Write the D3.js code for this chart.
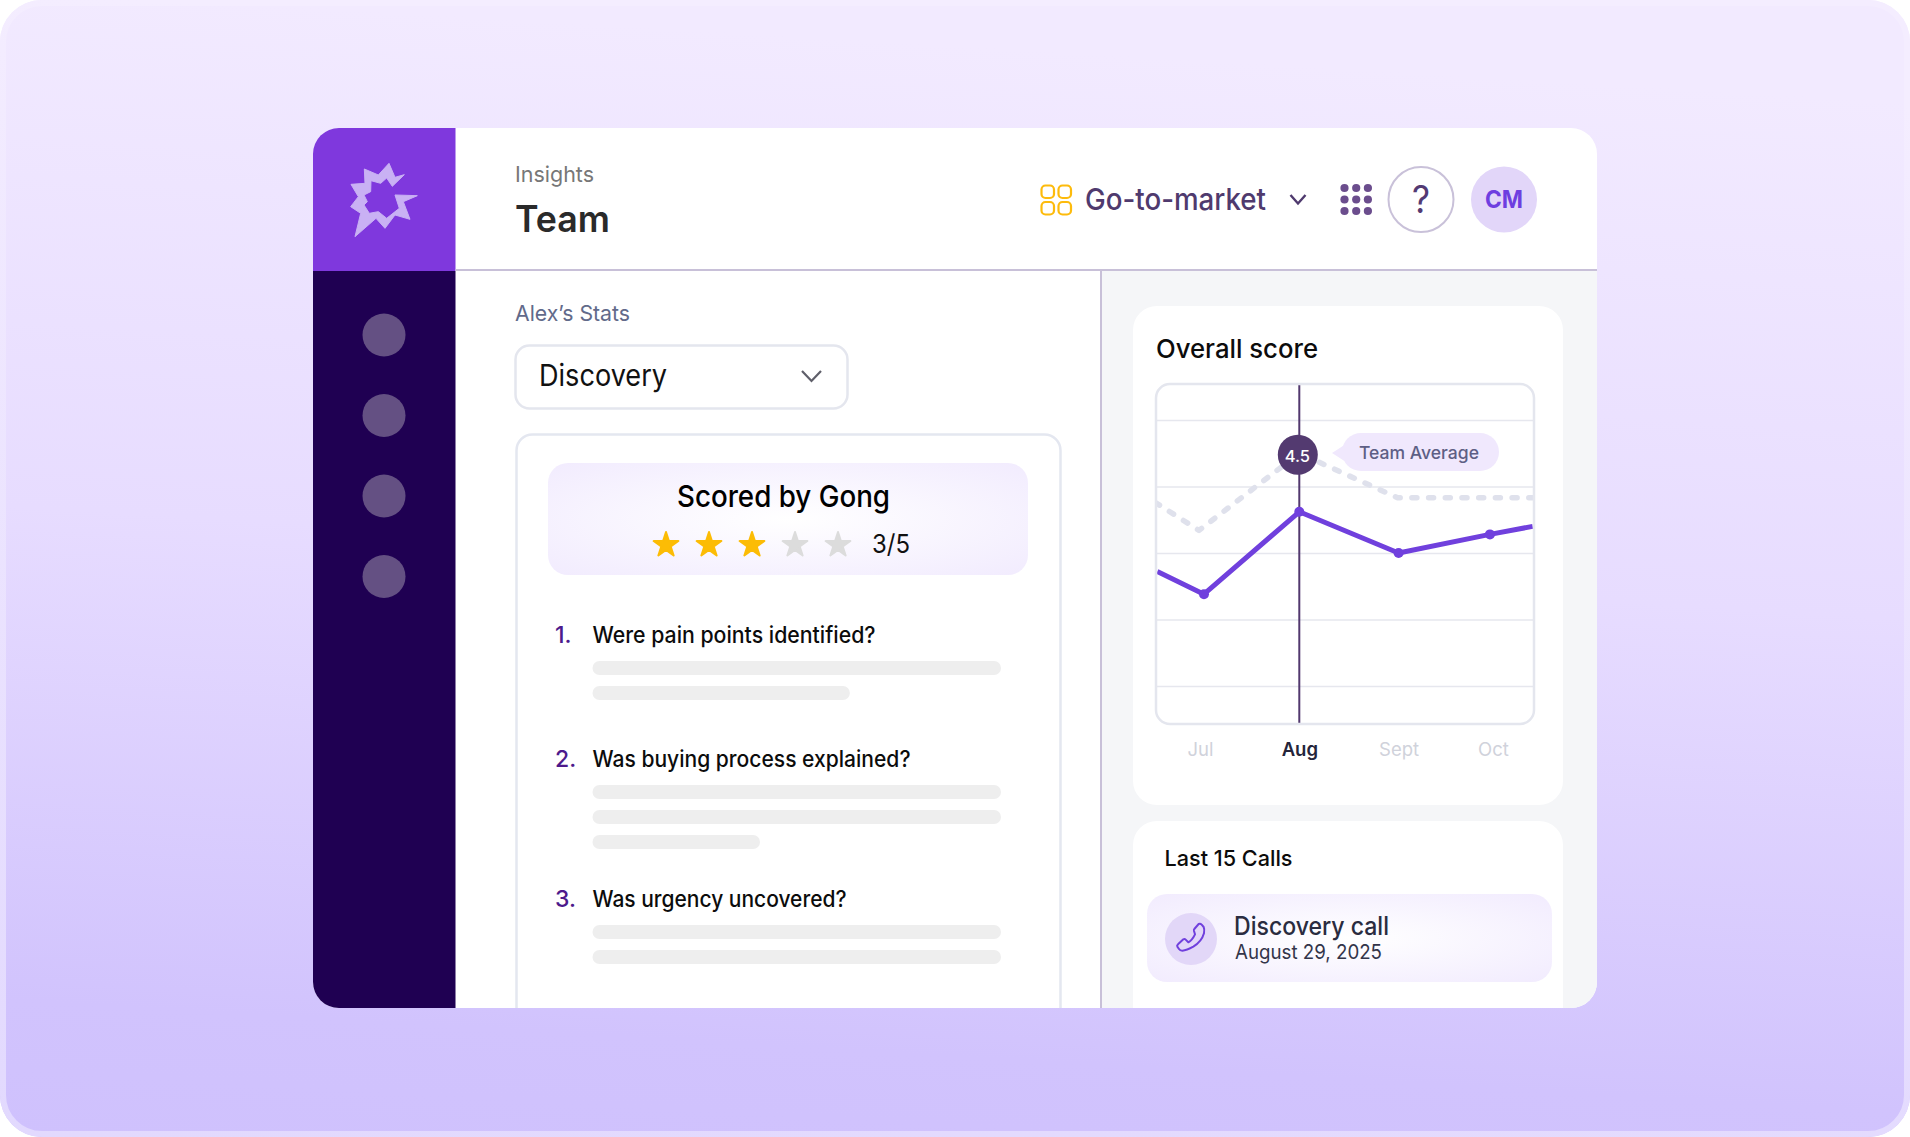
<!DOCTYPE html>
<html>
<head>
<meta charset="utf-8">
<style>
  html, body { margin: 0; padding: 0; background: #fff; }
  svg { display: block; }
  text { font-family: Inter, "Noto Sans", sans-serif; }
</style>
<script src="https://cdn.jsdelivr.net/npm/d3@7"></script>
</head>
<body>
<svg id="page" width="1910" height="1137"></svg>
<script>
// chart data
const months = ["Jul", "Aug", "Sept", "Oct"];
const monthTicks = [0, 1, 2, 2.95];
const gridValues = [1, 2, 3, 4, 5];
const scoreX = [-0.43, 0.04, 1, 2, 2.92, 3.35];
const scoreY = [2.72, 2.38, 3.62, 3.0, 3.28, 3.4];
const dotX = [0.04, 1, 2, 2.92];
const dotY = [2.38, 3.62, 3.0, 3.28];
const teamX = [-0.45, -0.01, 1, 1.99, 3.36];
const teamY = [3.76, 3.34, 4.5, 3.83, 3.83];
const selectedMonth = 1;
const selectedValue = 4.5;

// the rest of the screen
const navDots = [0, 1, 2, 3];
const starSlots = [1, 2, 3, 4, 5];
const rating = 3;
const questions = ["Were pain points identified?", "Was buying process explained?", "Was urgency uncovered?"];
const questionWidths = [283, 318, 254];
const questionLines = [[1, 0.63], [1, 1, 0.41], [1, 1]];

const svg = d3.select("#page");
const defs = svg.append("defs");

function vGradient(id, stops) {
  const g = defs.append("linearGradient").attr("id", id).attr("x1", 0.1).attr("y1", 0).attr("x2", 0).attr("y2", 1);
  stops.forEach(s => g.append("stop").attr("offset", s[0]).attr("stop-color", s[1]));
}
function glowGradient(id) {
  const g = defs.append("radialGradient").attr("id", id).attr("r", 0.68);
  g.append("stop").attr("offset", 0).attr("stop-color", "#ffffff");
  g.append("stop").attr("offset", 1).attr("stop-color", "#f2ecfe");
}
vGradient("bg", [[0, "#f2eaff"], [0.45, "#e7dcff"], [0.88, "#d1c3fd"], [1, "#cfc1fd"]]);
vGradient("rim", [[0, "#f4edff"], [1, "#e2d9fe"]]);
glowGradient("glowA");
glowGradient("glowB");

function box(x, y, w, h, r, fill, stroke, sw) {
  return svg.append("rect").attr("x", x).attr("y", y).attr("width", w).attr("height", h).attr("rx", r)
    .attr("fill", fill).attr("stroke", stroke || "none").attr("stroke-width", sw || 0);
}

// width = width measured in the picture, the installed fonts run a little wide
function label(x, y, str, size, weight, color, width, anchor) {
  const t = svg.append("text").attr("x", x).attr("y", y).text(str)
    .attr("font-size", size).attr("font-weight", weight).attr("fill", color)
    .attr("text-anchor", anchor || "start");
  if (width) t.attr("textLength", width).attr("lengthAdjust", "spacingAndGlyphs");
  return t;
}

// background
box(0, 0, 1910, 1137, 42, "url(#bg)");
box(3, 3, 1904, 1131, 39, "none", "url(#rim)", 6);

// app shell
const shell = { x: 313, y: 128, w: 1284, h: 880, r: 26 };
defs.append("clipPath").attr("id", "shellClip").append("rect")
  .attr("x", shell.x).attr("y", shell.y).attr("width", shell.w).attr("height", shell.h).attr("rx", shell.r);
box(shell.x, shell.y, shell.w, shell.h, shell.r, "#ffffff");
const clipped = svg.append("g").attr("clip-path", "url(#shellClip)");
clipped.append("rect").attr("x", 313).attr("y", 128).attr("width", 142.5).attr("height", 143).attr("fill", "#7f38dd");
clipped.append("rect").attr("x", 313).attr("y", 271).attr("width", 142.5).attr("height", 737).attr("fill", "#1f0052");
clipped.append("rect").attr("x", 1102).attr("y", 271).attr("width", 495).attr("height", 737).attr("fill", "#f5f6f8");
clipped.append("rect").attr("x", 455.5).attr("y", 269).attr("width", 1141.5).attr("height", 2).attr("fill", "#c8c0d8");
clipped.append("rect").attr("x", 1100).attr("y", 271).attr("width", 2).attr("height", 737).attr("fill", "#c8c0d8");

// logo
const logoPts = [[147,40],[165,82],[193,74],[157,109],[140,84],[122,100],[93,92],[92,125],[72,135],[82,155],[72,165],[88,190],[115,185],[140,205],[178,175],[165,135],[232,137],[190,155],[210,208],[165,195],[135,235],[108,205],[45,260],[62,190],[32,170],[55,140],[33,103],[75,100],[73,57],[115,75]];
svg.append("path").attr("d", d3.line()(logoPts) + "Z")
  .attr("transform", "translate(340,150) scale(0.3333)")
  .attr("fill", "#c9b1f4").attr("stroke", "#c9b1f4").attr("stroke-width", 3).attr("stroke-linejoin", "round");

// sidebar dots
svg.selectAll(".nav").data(navDots).join("circle")
  .attr("cx", 384).attr("cy", d => 335 + d * 80.5).attr("r", 21.5).attr("fill", "#645083");

// header
label(515, 182, "Insights", 22, 400, "#777777", 79);
label(515, 232, "Team", 37, 600, "#2a2a2a", 95);

[0, 1].forEach(i => [0, 1].forEach(j => {
  box(1041.5 + i * 17, 185.5 + j * 16.5, 12.5, 12.5, 4, "none", "#fdbb0c", 2.2);
}));
label(1085, 210, "Go-to-market", 30, 500, "#4f3a6e", 181);
svg.append("path").attr("d", "M1290.5,195 L1298,203.5 L1305.5,195").attr("fill", "none")
  .attr("stroke", "#4f3a6e").attr("stroke-width", 2.4);
[0, 1, 2].forEach(i => [0, 1, 2].forEach(j => {
  svg.append("circle").attr("cx", 1344.5 + i * 11.7).attr("cy", 188 + j * 11.5).attr("r", 4.1).attr("fill", "#6b4d8d");
}));
svg.append("circle").attr("cx", 1421).attr("cy", 199.5).attr("r", 32.5).attr("fill", "#fff").attr("stroke", "#c9c1d9").attr("stroke-width", 2);
label(1421, 213, "?", 38, 400, "#533a73", 18, "middle");
svg.append("circle").attr("cx", 1504).attr("cy", 199.5).attr("r", 33).attr("fill", "#e2d6f9");
label(1504, 208, "CM", 24, 700, "#6e3ee0", 38, "middle");

// left column
label(515, 321, "Alex\u2019s Stats", 22, 400, "#626a8a", 115);
box(515.5, 345.5, 332, 63, 14, "#fff", "#e4e6ee", 2.5);
label(539, 386, "Discovery", 30, 400, "#111111", 128);
svg.append("path").attr("d", "M802,371 L811.5,381 L821,371").attr("fill", "none")
  .attr("stroke", "#5f5f6a").attr("stroke-width", 2.2);

clipped.append("rect").attr("x", 516.5).attr("y", 434.5).attr("width", 544).attr("height", 640).attr("rx", 16)
  .attr("fill", "#fff").attr("stroke", "#e4e7f0").attr("stroke-width", 2.5);

box(548, 463, 480, 112, 20, "url(#glowA)");
label(783.5, 507, "Scored by Gong", 30, 500, "#000000", 213, "middle");

const star = d3.symbol().type(d3.symbolStar).size(190);
svg.selectAll(".star").data(starSlots).join("path")
  .attr("d", star)
  .attr("transform", d => `translate(${666 + (d - 1) * 43},545)`)
  .attr("fill", d => d <= rating ? "#fcbc05" : "#dcdcdc")
  .attr("stroke", d => d <= rating ? "#fcbc05" : "#dcdcdc")
  .attr("stroke-width", 2).attr("stroke-linejoin", "round");
label(872, 553, rating + "/" + starSlots.length, 26, 400, "#111111", 38);

const questionY = [642.5, 766.5, 906.5];
const lineGap = 25;
questions.forEach((q, i) => {
  label(555, questionY[i], (i + 1) + ".", 23, 500, "#4d1a8c");
  label(592.5, questionY[i], q, 22.5, 500, "#0c0c0c", questionWidths[i]);
  questionLines[i].forEach((frac, k) => {
    box(592.5, questionY[i] + 18.5 + k * lineGap, 408.5 * frac, 14, 7, "#eeeeee");
  });
});

// score card
box(1133, 306, 430, 499, 24, "#fff");
label(1156, 358, "Overall score", 26, 500, "#0c0c0c", 162);

const frame = { left: 1156, right: 1534, top: 384, bottom: 724 };
defs.append("clipPath").attr("id", "frameClip").append("rect")
  .attr("x", frame.left).attr("y", frame.top).attr("width", frame.right - frame.left)
  .attr("height", frame.bottom - frame.top).attr("rx", 14);

const x = d3.scaleLinear().domain([0, 1]).range([1200, 1299.3]);
const y = d3.scaleLinear().domain([1, 5]).range([686, 420]);
const plot = svg.append("g").attr("clip-path", "url(#frameClip)");

// gridlines
const grid = plot.append("g").attr("transform", `translate(${frame.left},0)`)
  .call(d3.axisLeft(y).tickValues(gridValues).tickSize(-(frame.right - frame.left)).tickFormat(""));
grid.select(".domain").remove();
grid.selectAll("line").attr("stroke", "#e6e7ee").attr("stroke-width", 1.3);

// team average, dashed
plot.append("path")
  .attr("d", d3.line().x(d => x(d[0])).y(d => y(d[1]))(d3.zip(teamX, teamY)))
  .attr("fill", "none").attr("stroke", "#dfe1ec").attr("stroke-width", 5.5)
  .attr("stroke-linecap", "round").attr("stroke-linejoin", "round").attr("stroke-dasharray", "5 11.7");

// selected month marker
plot.append("line").attr("x1", x(selectedMonth)).attr("x2", x(selectedMonth))
  .attr("y1", frame.top).attr("y2", frame.bottom).attr("stroke", "#52386e").attr("stroke-width", 2);

// score line
plot.append("path")
  .attr("d", d3.line().x(d => x(d[0])).y(d => y(d[1]))(d3.zip(scoreX, scoreY)))
  .attr("fill", "none").attr("stroke", "#7040dd").attr("stroke-width", 5).attr("stroke-linejoin", "round");
plot.selectAll(".dot").data(d3.zip(dotX, dotY)).join("circle")
  .attr("cx", d => x(d[0])).attr("cy", d => y(d[1])).attr("r", 5).attr("fill", "#7040dd");

// frame goes on top of the clipped lines
box(frame.left, frame.top, frame.right - frame.left, frame.bottom - frame.top, 14, "none", "#e4e6ee", 2.5);

// month labels
const axis = svg.append("g").attr("transform", "translate(0,738)")
  .call(d3.axisBottom(x).tickValues(monthTicks).tickSize(0).tickPadding(0).tickFormat((d, i) => months[i]));
axis.select(".domain").remove();
axis.selectAll("text")
  .attr("y", 18).attr("dy", 0)
  .attr("font-size", 18.5).attr("font-family", "Inter")
  .attr("font-weight", (d, i) => i === selectedMonth ? 600 : 400)
  .attr("fill", (d, i) => i === selectedMonth ? "#24243a" : "#d0d2db");

// value bubble and tooltip
svg.append("circle").attr("cx", x(selectedMonth) - 1.5).attr("cy", y(selectedValue) + 1.5).attr("r", 20).attr("fill", "#533a70");
label(x(selectedMonth) - 2, y(selectedValue) + 8.5, selectedValue.toFixed(1), 16.5, 500, "#ffffff", 0, "middle");
svg.append("path").attr("d", "M1332,453 L1346,444 L1346,462 Z").attr("fill", "#f0e8fd");
box(1342, 433, 157, 38, 19, "#f0e8fd");
label(1419, 458.5, "Team Average", 17.5, 500, "#5e5f85", 120, "middle");

// calls card, its bottom edge is cut off by the shell
clipped.append("rect").attr("x", 1133).attr("y", 821).attr("width", 430).attr("height", 240).attr("rx", 24).attr("fill", "#fff");
label(1164.5, 865.5, "Last 15 Calls", 22, 500, "#0c0c0c", 128);
box(1147, 894, 405, 88, 20, "url(#glowB)");
svg.append("circle").attr("cx", 1191).attr("cy", 939).attr("r", 26).attr("fill", "#e2d7f8");
svg.append("path")
  .attr("d", "M118,72 L131,57 Q136,55 140,59 L146,66 Q149,72 147,85 Q140,110 115,125 Q95,136 82,137 Q75,137 72,132 L67,125 Q65,121 69,118 L85,103 Q89,101 92,104 L100,112 Q112,105 120,88 L117,78 Q116,74 118,72 Z")
  .attr("transform", "translate(1155,905) scale(0.3333)")
  .attr("fill", "none").attr("stroke", "#7040dd").attr("stroke-width", 6).attr("stroke-linejoin", "round");
label(1234, 934.5, "Discovery call", 25, 500, "#2a2c40", 155);
label(1235, 958.5, "August 29, 2025", 20, 400, "#33354a", 147);
</script>
</body>
</html>
